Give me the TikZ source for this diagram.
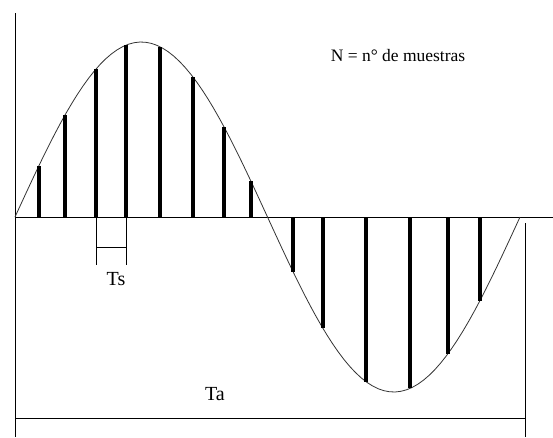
\documentclass[tikz,border=0pt]{standalone}
\usepackage{fontspec}
\setmainfont{Liberation Serif}
\usetikzlibrary{positioning}
\tikzset{
  axis/.style={draw=black,line width=0.9pt},
  wave/.style={draw=black!80,line width=0.8pt},
  sample/.style={draw=black,line width=3.4pt},
  tag/.style={font=\fontsize{20}{24}\selectfont,inner sep=0pt,anchor=base},
}

\begin{document}
\begin{tikzpicture}[x=1pt,y=-1pt]
  \useasboundingbox (0,0) rectangle (553,437);
  % axes
  \coordinate (o) at (15,217);
  \coordinate (ytop) at (15,13);
  \coordinate (ybot) at (15,437);
  \coordinate (xend) at (553,217);
  \draw[axis] (ytop) -- (ybot);
  \draw[axis] (o) -- (xend);
  % signal
  \draw[wave] plot[domain=15:520,samples=90] (\x,{217-175*sin((\x-15)*0.712871)});
  \foreach \s in {39,65,96,126,160,193,224,251,293,323,366,410,448,480}{
    \coordinate (b\s) at (\s,217);
    \coordinate (t\s) at (\s,{217-175*sin((\s-15)*0.712871)});
    \draw[sample] (b\s) -- (t\s);
  }
  % Ts
  \coordinate (ts1) at (96,265);
  \coordinate (ts2) at (126,265);
  \coordinate (tsl) at (96,247);
  \coordinate (tsr) at (126,247);
  \draw[axis] (b96) -- (ts1) (b126) -- (ts2) (tsl) -- (tsr);
  \node[tag] (ts) at (116,285) {Ts};
  % Ta
  \coordinate (tal) at (15,418);
  \coordinate (tar) at (525,418);
  \coordinate (tatop) at (525,223);
  \coordinate (tabot) at (525,437);
  \draw[axis] (tal) -- (tar) (tatop) -- (tabot);
  \node[tag] (ta) at (215,400) {Ta};
  \node[tag,font=\fontsize{17.5}{21}\selectfont] (n) at (398,61) {N = n° de muestras};
\end{tikzpicture}
\end{document}
